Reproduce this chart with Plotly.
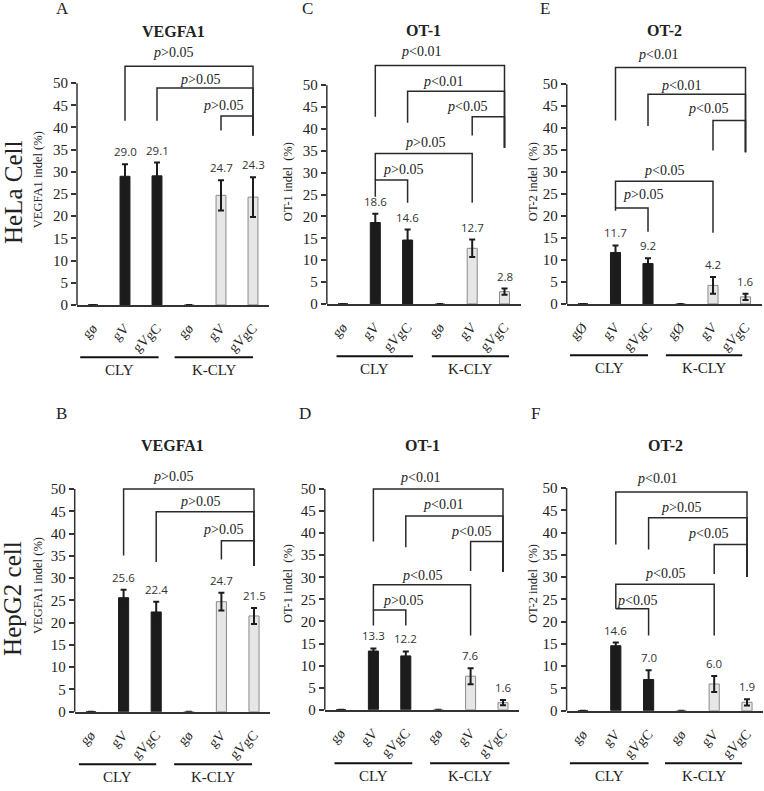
import plotly.graph_objects as go

W, H = 764, 791

# ---------------- data ----------------
cat_pos = [0, 1, 2, 3, 4, 5]
tick_text = ["gø", "gV", "gVgC", "gø", "gV", "gVgC"]
tick_text_E = ["gØ", "gV", "gVgC", "gØ", "gV", "gVgC"]
group_names = ["CLY", "K-CLY"]

A_vals = [0, 29.0, 29.1, 0, 24.7, 24.3]
A_err = [0, 2.7, 3.0, 0, 3.4, 4.5]
B_vals = [0, 25.6, 22.4, 0, 24.7, 21.5]
B_err = [0, 1.8, 2.3, 0, 2.0, 1.8]
C_vals = [0, 18.6, 14.6, 0, 12.7, 2.8]
C_err = [0, 2.0, 2.4, 0, 2.0, 0.7]
D_vals = [0, 13.3, 12.2, 0, 7.6, 1.6]
D_err = [0, 0.6, 1.0, 0, 1.8, 0.6]
E_vals = [0, 11.7, 9.2, 0, 4.2, 1.6]
E_err = [0, 1.6, 1.2, 0, 1.9, 0.7]
F_vals = [0, 14.6, 7.0, 0, 6.0, 1.9]
F_err = [0, 0.7, 2.1, 0, 1.8, 0.7]

titles = {"A": "VEGFA1", "B": "VEGFA1", "C": "OT-1", "D": "OT-1", "E": "OT-2", "F": "OT-2"}
ytitles = {"A": "VEGFA1 indel (%)", "B": "VEGFA1 indel (%)",
           "C": "OT-1 indel\u00a0 (%)", "D": "OT-1 indel\u00a0 (%)",
           "E": "OT-2 indel\u00a0 (%)", "F": "OT-2 indel\u00a0 (%)"}
row_labels = ["HeLa Cell", "HepG2 cell"]

GT = "<i>p</i>&gt;0.05"
LT5 = "<i>p</i>&lt;0.05"
LT1 = "<i>p</i>&lt;0.01"

# brackets: (x_left, x_right, y_line, y_left_end, y_right_end, text, text_x, text_y)
brackets = {
    "A": [(1, 5, 53.8, 41.5, 38.2, GT, 2.5, 56.9),
          (2, 5, 48.9, 41.5, 38.2, GT, 3.35, 50.9),
          (4, 5, 42.6, 39.3, 38.2, GT, 4.05, 44.9)],
    "B": [(1, 5, 50.0, 35.1, 32.7, GT, 2.5, 52.7),
          (2, 5, 44.9, 33.6, 32.7, GT, 3.35, 47.1),
          (4, 5, 38.4, 34.2, 32.7, GT, 4.05, 40.9)],
    "C": [(1, 5, 54.5, 42.8, 35.7, LT1, 2.4, 57.7),
          (2, 5, 48.6, 41.4, 35.7, LT1, 3.1, 50.9),
          (4, 5, 42.8, 38.5, 35.7, LT5, 3.85, 45.2),
          (1, 4, 34.4, 28.3, 23.1, GT, 2.55, 36.9),
          (1, 2, 28.3, 24.5, 23.1, GT, 1.85, 30.8)],
    "D": [(1, 5, 50.0, 38.1, 31.2, LT1, 2.45, 52.7),
          (2, 5, 43.9, 36.8, 31.2, LT1, 3.15, 46.4),
          (4, 5, 38.1, 31.4, 31.2, LT5, 4.0, 40.4),
          (1, 4, 28.3, 22.6, 16.8, LT5, 2.5, 30.3),
          (1, 2, 22.6, 19.1, 19.1, GT, 1.9, 24.7)],
    "E": [(1, 5, 53.8, 41.7, 34.5, LT1, 2.3, 56.8),
          (2, 5, 47.7, 40.5, 34.5, LT1, 3.0, 49.8),
          (4, 5, 41.7, 34.9, 34.5, LT5, 3.85, 44.4),
          (1, 4, 27.9, 21.8, 16.2, LT5, 2.5, 30.4),
          (1, 2, 21.8, 21.2, 16.4, GT, 1.85, 24.8)],
    "F": [(1, 5, 49.1, 37.3, 30.0, LT1, 2.25, 52.2),
          (2, 5, 43.3, 36.2, 30.0, GT, 3.0, 45.6),
          (4, 5, 37.3, 30.7, 30.0, LT5, 3.8, 39.8),
          (1, 4, 28.4, 22.9, 16.9, LT5, 2.5, 30.7),
          (1, 2, 22.9, 22.9, 16.9, LT5, 1.65, 24.7)],
}

# group underline extents in category units
group_lines = {
    "A": [(-0.4, 2.05), (2.55, 5.0)],
    "B": [(-0.37, 2.0), (2.55, 4.94)],
    "C": [(-0.2, 2.17), (2.75, 5.14)],
    "D": [(-0.2, 2.2), (2.75, 5.2)],
    "E": [(-0.4, 2.0), (2.55, 4.9)],
    "F": [(-0.4, 2.0), (2.5, 4.85)],
}

panel_data = {"A": (A_vals, A_err), "B": (B_vals, B_err), "C": (C_vals, C_err),
              "D": (D_vals, D_err), "E": (E_vals, E_err), "F": (F_vals, F_err)}

# ---------------- layout geometry (pixels) ----------------
# cat0 px, spacing px, y0 px (value 0), px per unit, top px of plot area
geom = {
    "A": (93, 32.0, 308, 4.48, 38),
    "C": (343, 32.3, 307, 4.42, 38),
    "E": (583, 32.5, 307, 4.44, 38),
    "B": (91, 32.6, 719, 4.50, 462),
    "D": (341, 32.4, 717, 4.46, 462),
    "F": (583, 32.8, 718, 4.50, 462),
}
axis_ids = {"A": 1, "C": 2, "E": 3, "B": 4, "D": 5, "F": 6}
letter_pos = {"A": (62, 9), "C": (307, 9), "E": (545, 9),
              "B": (61, 418), "D": (305, 418), "F": (535, 418)}
title_y = {"A": 32, "C": 31, "E": 31, "B": 450, "D": 450, "F": 450}
ytitle_pos = {"A": (38, 182), "C": (288, 184), "E": (533, 184),
              "B": (38, 592), "D": (288, 590), "F": (533, 590)}
group_line_y = {"A": 361, "C": 360, "E": 359, "B": 772, "D": 771, "F": 771}

serif = "Liberation Serif"
sans = "Open Sans"
ink = "#222222"

fig = go.Figure()
shapes = []
annotations = []


def px_to_paper_x(px):
    return px / W


def px_to_paper_y(py):
    return (H - py) / H


for key in ["A", "C", "E", "B", "D", "F"]:
    cat0, sp, y0, ppu, top = geom[key]
    n = axis_ids[key]
    xa = "x" if n == 1 else f"x{n}"
    ya = "y" if n == 1 else f"y{n}"
    xl = "xaxis" if n == 1 else f"xaxis{n}"
    yl = "yaxis" if n == 1 else f"yaxis{n}"
    vals, errs = panel_data[key]
    ytop = (y0 - top) / ppu

    left_px = cat0 - sp / 2
    right_px = cat0 + 5.5 * sp
    fills = ["#1c1c1c"] * 3 + ["#e6e6e6"] * 3
    lines = ["#1c1c1c"] * 3 + ["#8a8a8a"] * 3

    fig.add_trace(go.Bar(
        x=cat_pos, y=vals, width=0.31, xaxis=xa, yaxis=ya,
        marker=dict(color=fills, line=dict(color=lines, width=1)),
        error_y=dict(type="data", array=errs, visible=True,
                     color="#1c1c1c", thickness=2, width=3),
        showlegend=False, hoverinfo="skip",
    ))

    fig.update_layout(**{
        xl: dict(domain=[px_to_paper_x(left_px), min(1, px_to_paper_x(right_px))],
                 range=[-0.5, 5.5], anchor=ya, showline=True, linecolor="#333",
                 linewidth=1.5, ticks="", showgrid=False, zeroline=False,
                 tickvals=cat_pos,
                 ticktext=tick_text_E if key == "E" else tick_text,
                 tickangle=-45, tickfont=dict(family=serif, size=14, color=ink),
                 ticklabelstandoff=8,
                 fixedrange=True),
        yl: dict(domain=[px_to_paper_y(y0), px_to_paper_y(top)],
                 range=[0, ytop], anchor=xa, showline=False, showgrid=False,
                 zeroline=False, tickvals=list(range(0, 51, 5)),
                 ticks="outside", ticklen=5, tickwidth=1.5, tickcolor="#333",
                 tickfont=dict(family=serif, size=15, color=ink),
                 fixedrange=True),
    })

    # y axis line from 0 to 50
    shapes.append(dict(type="line", xref=f"{xa} domain", yref=f"{ya} domain",
                       x0=0, x1=0, y0=0, y1=50 / ytop,
                       line=dict(color="#333", width=1.5)))

    # brackets
    for (bxl, bxr, byl, byle, byre, txt, tx, ty) in brackets[key]:
        shapes.append(dict(type="path", xref=xa, yref=ya,
                           path=f"M {bxl},{byle} L {bxl},{byl} L {bxr},{byl} L {bxr},{byre}",
                           line=dict(color="#2a2a2a", width=1.5)))
        annotations.append(dict(xref=xa, yref=ya, x=tx, y=ty, text=txt,
                                showarrow=False, xanchor="center", yanchor="middle",
                                font=dict(family=serif, size=14, color=ink)))

    # value labels
    for c, v, e in zip(cat_pos, vals, errs):
        if v > 0:
            annotations.append(dict(xref=xa, yref=ya, x=c, y=v + e,
                                    text=f"{v:.1f}", showarrow=False,
                                    xanchor="center", yanchor="bottom", yshift=3,
                                    font=dict(family=sans, size=11.5, color="#333")))

    # group underlines and labels
    gy = group_line_y[key]
    for (g0, g1), gname in zip(group_lines[key], group_names):
        d0 = (g0 + 0.5) / 6
        d1 = (g1 + 0.5) / 6
        shapes.append(dict(type="line", xref=f"{xa} domain", yref="paper",
                           x0=d0, x1=d1, y0=px_to_paper_y(gy), y1=px_to_paper_y(gy),
                           line=dict(color="#111", width=2)))
        annotations.append(dict(xref=f"{xa} domain", yref="paper",
                                x=(d0 + d1) / 2, y=px_to_paper_y(gy + 13),
                                text=gname, showarrow=False,
                                xanchor="center", yanchor="middle",
                                font=dict(family=serif, size=15, color=ink)))

    # panel letter
    lx, ly = letter_pos[key]
    annotations.append(dict(xref="paper", yref="paper", x=px_to_paper_x(lx),
                            y=px_to_paper_y(ly), text=key, showarrow=False,
                            xanchor="center", yanchor="middle",
                            font=dict(family=serif, size=17, color=ink)))
    # title
    annotations.append(dict(xref=f"{xa} domain", yref="paper",
                            x=0.5, y=px_to_paper_y(title_y[key]),
                            text=f"<b>{titles[key]}</b>", showarrow=False,
                            xanchor="center", yanchor="middle",
                            font=dict(family=serif, size=16, color=ink)))
    # y title
    tx, ty = ytitle_pos[key]
    annotations.append(dict(xref="paper", yref="paper", x=px_to_paper_x(tx),
                            y=px_to_paper_y(ty), text=ytitles[key], textangle=-90,
                            showarrow=False, xanchor="center", yanchor="middle",
                            font=dict(family=serif, size=12.5, color=ink)))

# row labels
for label, ry in zip(row_labels, [195, 605]):
    annotations.append(dict(xref="paper", yref="paper", x=px_to_paper_x(13),
                            y=px_to_paper_y(ry), text=label, textangle=-90,
                            showarrow=False, xanchor="center", yanchor="middle",
                            font=dict(family=serif, size=25, color=ink)))

fig.update_layout(
    width=W, height=H, margin=dict(l=0, r=0, t=0, b=0),
    paper_bgcolor="white", plot_bgcolor="white",
    shapes=shapes, annotations=annotations, bargap=0.5,
)

fig.write_html("out.html", config={"displayModeBar": False},
               post_script="document.body.style.margin='0';document.body.style.padding='0';")
